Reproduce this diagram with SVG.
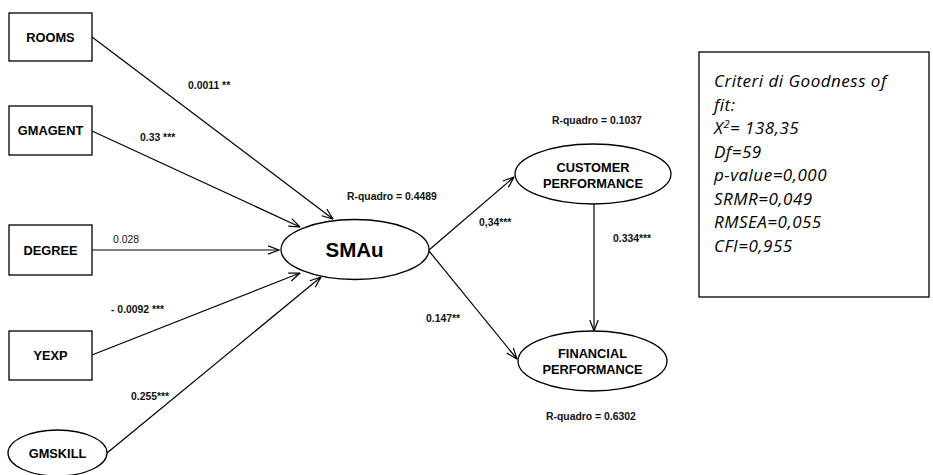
<svg xmlns="http://www.w3.org/2000/svg" width="933" height="475" viewBox="0 0 933 475">
  <style>
    .box { fill: #fff; stroke: #000; stroke-width: 1.3; }
    .node { font-family: "Liberation Sans", Arial, sans-serif; font-weight: bold; font-size: 12.8px; fill: #000; text-anchor: middle; }
    .big { font-size: 20.5px; }
    .edge { stroke: #000; stroke-width: 1.2; fill: none; marker-end: url(#arrow); }
    .lbl { font-family: "Liberation Sans", Arial, sans-serif; font-weight: bold; font-size: 10.4px; fill: #111; }
    .plain { font-weight: normal; }
    .fit { font-family: "Open Sans", "Liberation Sans", sans-serif; font-style: italic; font-size: 17px; letter-spacing: 0.5px; fill: #000; }
  </style>
  <defs>
    <marker id="arrow" viewBox="0 0 12 10" refX="11.5" refY="5" markerWidth="12" markerHeight="10" markerUnits="userSpaceOnUse" orient="auto">
      <path d="M0.5,0.8 L11.5,5 L0.5,9.2" fill="none" stroke="#000" stroke-width="1.2"/>
    </marker>
  </defs>
  <rect width="933" height="475" fill="#fff"/>

  <!-- connectors -->
  <g id="connectors">
    <line class="edge" x1="92" y1="37" x2="333" y2="219"/>
    <line class="edge" x1="92" y1="131" x2="300" y2="227"/>
    <line class="edge" x1="92" y1="250" x2="279" y2="250"/>
    <line class="edge" x1="92" y1="355" x2="300" y2="273"/>
    <line class="edge" x1="107" y1="453" x2="321" y2="277"/>
    <line class="edge" x1="429" y1="250" x2="514" y2="177"/>
    <line class="edge" x1="429" y1="251" x2="517" y2="359"/>
    <line class="edge" x1="594" y1="204" x2="594" y2="331"/>
  </g>

  <!-- connector labels -->
  <g id="labels">
    <text class="lbl" x="188" y="89">0.0011 **</text>
    <text class="lbl" x="140" y="141">0.33 ***</text>
    <text class="lbl plain" x="113" y="243">0.028</text>
    <text class="lbl" x="111" y="313">- 0.0092 ***</text>
    <text class="lbl" x="131" y="400">0.255***</text>
    <text class="lbl" x="347" y="200">R-quadro = 0.4489</text>
    <text class="lbl" x="479" y="226">0,34***</text>
    <text class="lbl" x="426" y="322">0.147**</text>
    <text class="lbl" x="552" y="124">R-quadro = 0.1037</text>
    <text class="lbl" x="613" y="242">0.334***</text>
    <text class="lbl" x="546" y="420">R-quadro = 0.6302</text>
  </g>

  <!-- nodes -->
  <g id="rooms">
    <rect class="box" x="9" y="13" width="83" height="48"/>
    <text class="node" x="50.5" y="42">ROOMS</text>
  </g>
  <g id="gmagent">
    <rect class="box" x="9" y="106" width="83" height="49"/>
    <text class="node" x="50.5" y="135">GMAGENT</text>
  </g>
  <g id="degree">
    <rect class="box" x="9" y="225" width="83" height="50"/>
    <text class="node" x="50.5" y="255">DEGREE</text>
  </g>
  <g id="yexp">
    <rect class="box" x="9" y="331" width="83" height="49"/>
    <text class="node" x="50.5" y="360">YEXP</text>
  </g>
  <g id="gmskill">
    <ellipse class="box" cx="57.5" cy="453" rx="49.5" ry="23"/>
    <text class="node" x="57.5" y="458">GMSKILL</text>
  </g>
  <g id="smau">
    <ellipse class="box" cx="355" cy="249.5" rx="74" ry="30"/>
    <text class="node big" x="354.5" y="257">SMAu</text>
  </g>
  <g id="customer-performance">
    <ellipse class="box" cx="593" cy="174" rx="78" ry="30"/>
    <text class="node" x="593" y="172">CUSTOMER</text>
    <text class="node" x="593" y="187.5">PERFORMANCE</text>
  </g>
  <g id="financial-performance">
    <ellipse class="box" cx="592.5" cy="361" rx="74.5" ry="30"/>
    <text class="node" x="592.5" y="358">FINANCIAL</text>
    <text class="node" x="592.5" y="374">PERFORMANCE</text>
  </g>

  <!-- goodness of fit box -->
  <g id="fit-criteria">
    <rect x="699" y="52" width="230" height="245" fill="#fff" stroke="#000" stroke-width="1.3"/>
    <text class="fit" x="714" y="87">Criteri di Goodness of</text>
    <text class="fit" x="714" y="110.5">fit:</text>
    <text class="fit" x="714" y="134">X<tspan font-size="11px" dy="-6">2</tspan><tspan dy="6">= 138,35</tspan></text>
    <text class="fit" x="714" y="157.5">Df=59</text>
    <text class="fit" x="714" y="181">p-value=0,000</text>
    <text class="fit" x="714" y="204.5">SRMR=0,049</text>
    <text class="fit" x="714" y="228">RMSEA=0,055</text>
    <text class="fit" x="714" y="251.5">CFI=0,955</text>
  </g>
</svg>
